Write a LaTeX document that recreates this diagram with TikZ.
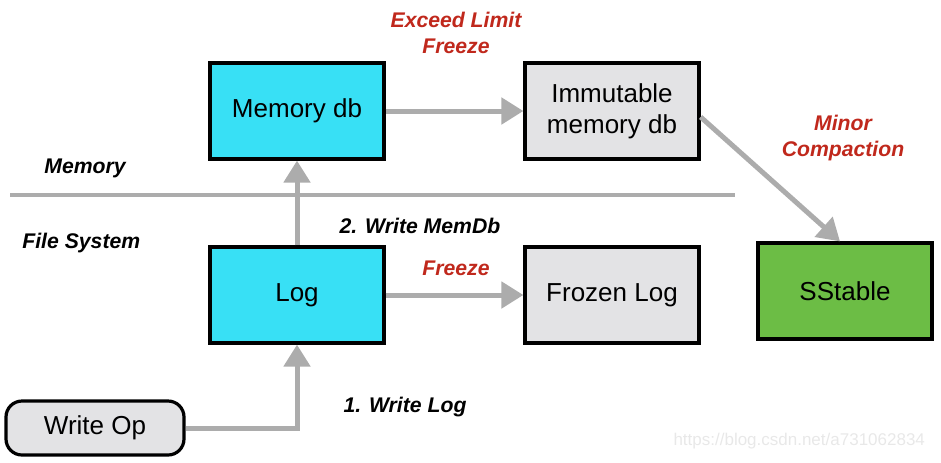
\documentclass[tikz,border=0pt]{standalone}
\usepackage{fontspec}
\setmainfont{Liberation Sans}
\usetikzlibrary{arrows.meta,positioning,calc}

\definecolor{memcyan}{HTML}{38E0F5}
\definecolor{boxgray}{HTML}{E3E3E5}
\definecolor{sstgreen}{HTML}{6CBD45}
\definecolor{flowgray}{HTML}{ACACAC}
\definecolor{labelred}{HTML}{C0281C}

\tikzset{
  box/.style={draw=black, line width=1.6pt, minimum width=87pt, minimum height=48pt, font=\fontsize{13}{15.5}\selectfont, align=center},
  flow/.style={draw=flowgray, line width=2.5pt, -{Triangle[length=11pt,width=13pt]}},
  steptext/.style={font=\fontsize{10.6}{12.6}\selectfont\bfseries\itshape},
  redtext/.style={steptext, text=labelred, align=center}
}

\begin{document}
\begin{tikzpicture}[x=0.5pt,y=-0.5pt]
  \useasboundingbox (0,0) rectangle (941,462);

  \node (M) [box, fill=memcyan] at (297,111) {Memory db};
  \node (I) [box, fill=boxgray] at (612,111) {Immutable\\memory db};
  \node (L) [box, fill=memcyan] at (297,295) {Log};
  \node (F) [box, fill=boxgray] at (612,295) {Frozen Log};
  \node (S) [box, fill=sstgreen] at (845,291) {SStable};
  \node (W) [box, fill=boxgray, rounded corners=8pt, minimum width=89pt, minimum height=27pt] at (95,428) {Write Op};
  \coordinate (bend) at (L |- W);

  % memory / file system divider
  \coordinate (divL) at (10,195);
  \coordinate (divR) at (735,195);
  \draw [flowgray, line width=2pt] (divL) -- (divR);

  \node (mem) [steptext, anchor=west, inner sep=0pt] at (44,168) {Memory};
  \node (fs) [steptext, anchor=west, inner sep=0pt] at (22,243) {File System};
  \node (lim) [redtext] at (456,33) {Exceed Limit\\Freeze};
  \node (minor) [redtext] at (843,138) {Minor\\Compaction};
  \node (wmem) [steptext] at (420,226) {2. Write MemDb};
  \node (frz) [redtext] at (456,268) {Freeze};
  \node (wlog) [steptext] at (405,407) {1. Write Log};
  \node (mark) [text=black!9, font=\fontsize{8.5}{10}\selectfont, anchor=east] at (932,441) {https://blog.csdn.net/a731062834};

  \path
  (M) edge [flow] (I)
  (L) edge [flow] (F)
  (L) edge [flow] (M)
  ($(I.east)+(0,6)$) edge [flow] ($(S.north)+(-5,0)$);
  \draw [flow] (W.east) -- (bend) -- (L.south);
\end{tikzpicture}
\end{document}
